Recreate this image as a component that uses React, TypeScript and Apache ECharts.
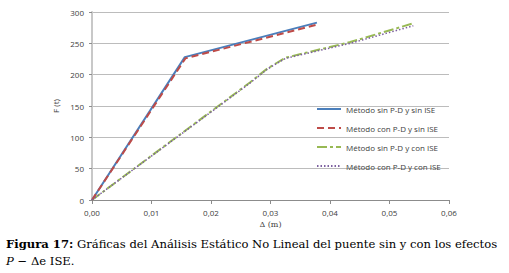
import React, { useEffect, useRef } from "react";
import * as echarts from "echarts";

const seriesNames = [
  "Método sin P-D y sin ISE",
  "Método con P-D y sin ISE",
  "Método sin P-D y con ISE",
  "Método con P-D y con ISE",
];
const sinPDsinISE: [number, number][] = [[0, 0], [0.0156, 228], [0.0378, 283]];
const conPDsinISE: [number, number][] = [[0, 0], [0.0157, 226], [0.0379, 280]];
const sinPDconISE: [number, number][] = [[0, 0], [0.0201, 142], [0.0266, 188], [0.0295, 210], [0.0325, 227], [0.0434, 252], [0.054, 282]];
const conPDconISE: [number, number][] = [[0, 0], [0.0201, 141], [0.0266, 187], [0.0295, 209], [0.0325, 226], [0.0434, 250], [0.054, 278]];
const yTicks = { min: 0, max: 300, interval: 50 };
const xTicks = { min: 0, max: 0.06, interval: 0.01 };
const captionBold = "Figura 17:";
const captionLine1 = "Gráficas del Análisis Estático No Lineal del puente sin y con los efectos";
const captionLine2 = "e ISE.";

export default function App() {
  const ref = useRef<HTMLDivElement>(null);
  useEffect(() => {
    if (!ref.current) return;
    const chart = echarts.init(ref.current, null, { renderer: "svg" });
    const font = "'Open Sans', 'Liberation Sans', sans-serif";
    const serif = "'DejaVu Serif', serif";
    const labelColor = "#404040";
    chart.setOption({
      animation: false,
      backgroundColor: "#ffffff",
      grid: { left: 92, top: 12, width: 357, height: 188, containLabel: false },
      xAxis: {
        type: "value",
        min: xTicks.min,
        max: xTicks.max,
        interval: xTicks.interval,
        name: "Δ (m)",
        nameLocation: "middle",
        nameGap: 20,
        nameTextStyle: { fontFamily: serif, fontSize: 8, color: labelColor },
        axisLine: { show: true, lineStyle: { color: "#8c8c8c", width: 1 } },
        axisTick: { show: true, length: 4, lineStyle: { color: "#8c8c8c" } },
        splitLine: { show: false },
        axisLabel: {
          fontFamily: font,
          fontSize: 8,
          color: labelColor,
          margin: 8,
          formatter: (v: number) => v.toFixed(2).replace(".", ","),
        },
      },
      yAxis: {
        type: "value",
        min: yTicks.min,
        max: yTicks.max,
        interval: yTicks.interval,
        name: "F (t)",
        nameLocation: "middle",
        nameGap: 26,
        nameTextStyle: { fontFamily: font, fontSize: 8, color: labelColor },
        axisLine: { show: true, lineStyle: { color: "#c8c8c8", width: 2 } },
        axisTick: { show: true, length: 3, lineStyle: { color: "#8c8c8c" } },
        splitLine: { show: true, lineStyle: { color: "#bcbcbc", width: 1 } },
        axisLabel: { fontFamily: font, fontSize: 8, color: labelColor, margin: 8 },
      },
      legend: {
        orient: "vertical",
        left: 311,
        top: 100,
        itemWidth: 24,
        itemHeight: 10,
        itemGap: 11,
        itemStyle: { opacity: 0 },
        textStyle: { fontFamily: font, fontSize: 8, color: labelColor },
        data: seriesNames,
      },
      series: [
        {
          name: seriesNames[0],
          type: "line",
          data: sinPDsinISE,
          symbol: "none",
          lineStyle: { color: "#4a7ebb", width: 2 },
          itemStyle: { color: "#4a7ebb" },
          z: 4,
        },
        {
          name: seriesNames[1],
          type: "line",
          data: conPDsinISE,
          symbol: "none",
          lineStyle: { color: "#be4b48", width: 2, type: [7, 4] },
          itemStyle: { color: "#be4b48" },
          z: 5,
        },
        {
          name: seriesNames[2],
          type: "line",
          data: sinPDconISE,
          symbol: "none",
          lineStyle: { color: "#98b954", width: 2, type: [10, 3, 3, 3] },
          itemStyle: { color: "#98b954" },
          z: 3,
        },
        {
          name: seriesNames[3],
          type: "line",
          data: conPDconISE,
          symbol: "none",
          lineStyle: { color: "#7d60a0", width: 1.5, type: [1.5, 2] },
          itemStyle: { color: "#7d60a0" },
          z: 6,
        },
      ],
      graphic: [
        {
          type: "text",
          left: 6,
          top: 238,
          style: {
            text: "{b|" + captionBold + "} " + captionLine1,
            font: "11.6px " + serif,
            fill: "#000",
            rich: {
              b: { fontWeight: "bold", fontFamily: serif, fontSize: 11.6, fill: "#000" },
            },
          },
        },
        {
          type: "text",
          left: 6,
          top: 255,
          style: {
            text: "{i|P} − Δ" + captionLine2,
            font: "11.6px " + serif,
            fill: "#000",
            rich: {
              i: { fontStyle: "italic", fontFamily: serif, fontSize: 11.6, fill: "#000" },
            },
          },
        },
      ],
    });
    return () => chart.dispose();
  }, []);
  return (
    <div
      ref={ref}
      style={{ position: "fixed", left: 0, top: 0, width: 509, height: 273 }}
    />
  );
}
